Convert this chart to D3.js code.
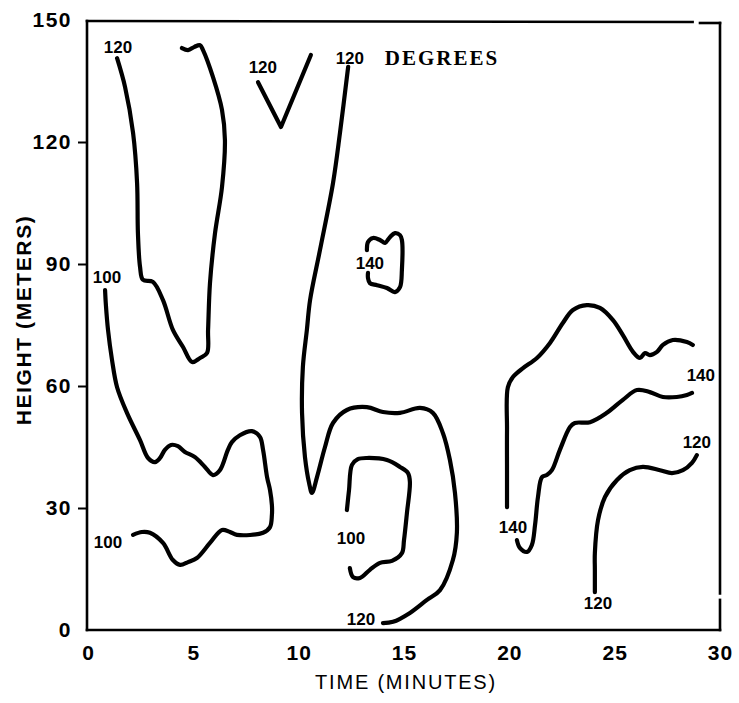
<!DOCTYPE html>
<html>
<head>
<meta charset="utf-8">
<script src="https://cdn.jsdelivr.net/npm/d3@7"></script>
<style>
  html, body { margin: 0; padding: 0; background: #fff; }
  svg { display: block; }
  .tick text { font-family: "Liberation Sans", Arial, sans-serif; font-weight: bold; }
</style>
</head>
<body>
<svg id="chart" width="739" height="703"></svg>
<script>
// Isotherms of temperature (degrees) over time (minutes) and height (meters)
const xTicks = [0, 5, 10, 15, 20, 25, 30];
const yTicks = [0, 30, 60, 90, 120, 150];

// each isotherm: [time, height] pairs along the line
const iso120TopLeft = [
  [1.38,140.6],[1.76,133.5],[2.14,122.2],[2.33,109.9],[2.37,97.6],[2.47,89.3],
  [2.61,86.1],[3.08,85.6],[3.56,81.1],[4.03,73.8],[4.51,69.6],[4.94,65.9],
  [5.32,66.9],[5.65,68.1],[5.70,73.8],[5.79,85.3],[6.03,97.6],[6.36,108.9],
  [6.50,120.5],[6.36,127.9],[5.93,136.0],[5.46,142.6],[5.32,143.8],[5.05,143.4],
  [4.75,142.6],[4.46,143.1]
];
const iso120V = [[8.07,134.7],[9.16,123.7],[10.58,141.4]];
const iso120Long = [
  [12.35,138.5],[11.96,122.2],[11.63,109.9],[11.01,93.4],[10.54,81.1],[10.39,73.8],
  [10.20,64.7],[10.16,53.4],[10.30,42.5],[10.50,36.0],[10.63,33.7],[10.87,37.6],
  [11.25,45.0],[11.63,50.9],[12.29,54.1],[13.24,54.8],[14.0,53.6],[14.81,53.4],
  [15.76,54.6],[16.37,53.4],[16.85,48.4],[17.18,41.8],[17.42,33.7],[17.51,23.9],
  [17.32,17.2],[16.71,9.8],[16.09,7.4],[15.28,4.2],[14.48,2.0],[14.0,1.7]
];
const iso100Inner = [
  [12.29,29.5],[12.39,34.4],[12.53,40.6],[12.81,42.0],[13.24,42.3],[14.19,41.8],
  [14.81,40.1],[15.19,38.6],[15.28,36.4],[15.14,28.8],[15.0,22.1],[14.90,18.9],
  [14.43,17.0],[13.86,16.5],[13.38,14.8],[12.91,12.8],[12.58,13.0],[12.43,15.2]
];
const iso140Cell = [
  [13.24,93.4],[13.29,95.4],[13.53,96.4],[13.86,95.9],[14.10,95.2],[14.33,96.6],
  [14.57,97.6],[14.81,97.1],[14.90,95.9],[14.90,88.5],[14.81,84.3],[14.57,83.1],
  [14.19,84.1],[13.72,84.8],[13.38,85.3],[13.29,86.6],[13.29,87.8]
];
const iso100Left = [
  [0.81,83.6],[0.85,79.9],[0.95,73.8],[1.14,66.4],[1.38,59.7],[1.85,53.4],
  [2.47,46.7],[2.85,42.3],[3.18,41.3],[3.42,42.3],[3.65,44.3],[3.94,45.5],
  [4.27,45.2],[4.60,43.8],[5.08,42.5],[5.55,40.1],[5.93,38.1],[6.26,39.3],
  [6.64,44.3],[6.83,46.2],[7.21,47.9],[7.78,48.9],[8.16,47.5],[8.31,44.3],
  [8.50,37.6],[8.64,34.4],[8.73,30.7],[8.73,28.3],[8.64,25.3],[8.31,23.9],
  [7.07,23.4],[6.74,24.1],[6.36,24.6],[5.79,21.4],[5.17,17.7],[4.75,16.7],
  [4.37,16.0],[4.03,17.2],[3.56,21.4],[2.94,23.9],[2.56,24.1],[2.14,23.4]
];
const iso140Upper = [
  [19.89,30.2],[19.89,39.3],[19.89,49.2],[19.93,59.7],[20.17,62.2],[20.65,64.4],
  [21.31,66.9],[21.93,70.6],[22.54,75.5],[23.02,78.7],[23.68,79.9],[24.30,79.2],
  [24.92,76.2],[25.39,72.5],[25.87,68.4],[26.20,66.9],[26.44,68.1],[26.67,67.6],
  [27.01,68.4],[27.29,70.1],[27.76,71.3],[28.43,70.8],[28.71,70.1]
];
const iso140Lower = [
  [20.36,22.1],[20.50,20.2],[20.84,19.2],[21.07,20.9],[21.22,25.8],[21.36,32.7],
  [21.55,37.6],[21.78,38.1],[22.02,39.3],[22.40,44.3],[22.88,49.9],[23.11,50.9],
  [23.83,51.1],[24.63,53.4],[25.39,56.6],[26.06,59.0],[26.67,58.5],[27.29,57.3],
  [27.95,57.3],[28.43,57.8],[28.67,58.3]
];
const iso120Right = [
  [24.06,9.3],[24.06,14.8],[24.06,18.9],[24.21,27.0],[24.54,32.7],[25.11,36.9],
  [25.72,39.3],[26.34,40.1],[27.15,39.3],[27.72,38.6],[28.24,39.3],[28.67,41.1],
  [28.90,43.0]
];
const isotherms = [iso120TopLeft, iso120V, iso120Long, iso100Inner, iso140Cell,
                   iso100Left, iso140Upper, iso140Lower, iso120Right];

// contour values written beside the lines: [text, time, height]
const lineLabels = [
  ["120", 1.42, 143.3], ["120", 8.3, 138.2], ["120", 12.43, 140.6],
  ["100", 0.90, 86.8], ["100", 0.95, 21.6], ["140", 13.38, 90.2],
  ["100", 12.48, 22.4], ["120", 12.96, 2.5], ["140", 29.09, 62.7],
  ["140", 20.17, 25.3], ["120", 28.90, 46.2], ["120", 24.21, 6.6]
];
const unitLabel = "DEGREES";
const xTitle = "TIME (MINUTES)";
const yTitle = "HEIGHT (METERS)";

const svg = d3.select("#chart");
const x = d3.scaleLinear().domain([0, 30]).range([88, 720]);
const y = d3.scaleLinear().domain([0, 150]).range([630, 20]);

// frame of the plot, hand-inked with small breaks
const frame = svg.append("g").attr("stroke", "#000").attr("stroke-width", 2.6)
  .attr("fill", "none").attr("stroke-linecap", "square");
frame.append("line").attr("x1", x(0) - 1).attr("x2", x(0) - 1).attr("y1", y(150) + 1).attr("y2", y(0));
frame.append("line").attr("x1", x(0) - 1).attr("x2", x(30)).attr("y1", y(0)).attr("y2", y(0));
frame.append("line").attr("x1", x(0) - 1).attr("x2", x(28.7)).attr("y1", y(150) + 1).attr("y2", y(150) + 2);
frame.append("line").attr("x1", x(29.05)).attr("x2", x(30)).attr("y1", y(150) + 3).attr("y2", y(150) + 3);
frame.append("line").attr("x1", x(30)).attr("x2", x(30)).attr("y1", y(150) + 3).attr("y2", y(9));
frame.append("line").attr("x1", x(30)).attr("x2", x(30)).attr("y1", y(7.4)).attr("y2", y(0));

// y axis: labels on every tick, marks only on the inner ones
const yAxis = svg.append("g").attr("transform", `translate(${x(0) - 1},0)`)
  .call(d3.axisLeft(y).tickValues(yTicks).tickSize(9).tickPadding(6).tickFormat(d3.format("d")));
yAxis.select(".domain").remove();
yAxis.selectAll(".tick line").attr("stroke", "#000").attr("stroke-width", 2)
  .attr("display", d => (d === 0 || d === 150) ? "none" : null);
yAxis.selectAll(".tick text").attr("font-size", 21).attr("fill", "#000").attr("letter-spacing", 1.5);

// x axis: labels only
const xAxis = svg.append("g").attr("transform", `translate(0,${y(0)})`)
  .call(d3.axisBottom(x).tickValues(xTicks).tickSize(0).tickPadding(15).tickFormat(d3.format("d")));
xAxis.select(".domain").remove();
xAxis.selectAll(".tick text").attr("font-size", 21).attr("fill", "#000").attr("letter-spacing", 1);

// isotherms; the V-shaped one keeps its sharp vertex
const smooth = d3.line().x(d => x(d[0])).y(d => y(d[1])).curve(d3.curveCatmullRom.alpha(0.5));
const straight = d3.line().x(d => x(d[0])).y(d => y(d[1]));
svg.append("g").selectAll("path").data(isotherms).join("path")
  .attr("d", d => d === iso120V ? straight(d) : smooth(d))
  .attr("fill", "none").attr("stroke", "#000").attr("stroke-width", 4.2)
  .attr("stroke-linecap", "round").attr("stroke-linejoin", "round");

// contour values
svg.append("g").selectAll("text").data(lineLabels).join("text")
  .attr("x", d => x(d[1])).attr("y", d => y(d[2]))
  .attr("text-anchor", "middle").attr("dominant-baseline", "central")
  .attr("font-family", "'Liberation Sans', Arial, sans-serif")
  .attr("font-size", 17).attr("font-weight", "bold").attr("fill", "#000")
  .text(d => d[0]);

svg.append("text")
  .attr("x", x(16.8)).attr("y", y(140.6))
  .attr("text-anchor", "middle").attr("dominant-baseline", "central")
  .attr("font-family", "'Liberation Serif', 'Times New Roman', serif")
  .attr("font-size", 21).attr("font-weight", "bold").attr("letter-spacing", 2)
  .text(unitLabel);

// axis titles
svg.append("text")
  .attr("x", (x(0) + x(30)) / 2 + 2).attr("y", 682)
  .attr("text-anchor", "middle").attr("dominant-baseline", "central")
  .attr("font-family", "'Liberation Sans', Arial, sans-serif")
  .attr("font-size", 20).attr("letter-spacing", 1.8)
  .text(xTitle);

svg.append("text")
  .attr("transform", "translate(23,320) rotate(-90)")
  .attr("text-anchor", "middle").attr("dominant-baseline", "central")
  .attr("font-family", "'Liberation Sans', Arial, sans-serif")
  .attr("font-size", 21).attr("font-weight", "bold").attr("letter-spacing", 1.6)
  .text(yTitle);
</script>
</body>
</html>
